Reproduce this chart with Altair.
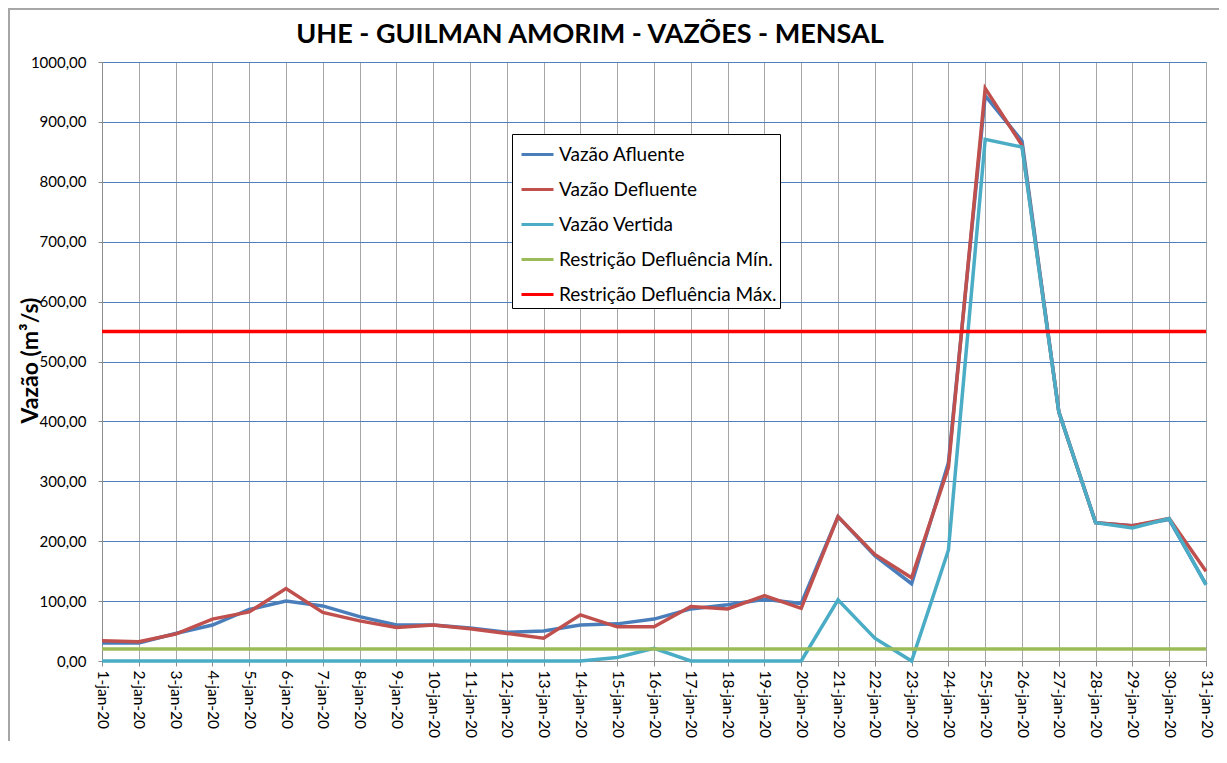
import altair as alt
import pandas as pd

days = [f"{d}-jan-20" for d in range(1, 32)]

afluente = [30, 30, 46, 60, 86, 100, 92, 74, 60, 60, 55, 48, 50, 60, 62, 70,
            87, 94, 103, 96, 241, 176, 129, 331, 944, 868, 416, 231, 226, 236, 128]
defluente = [34, 32, 45, 70, 82, 121, 81, 67, 56, 60, 54, 46, 38, 77, 57, 57,
             91, 87, 109, 88, 241, 178, 139, 323, 956, 861, 416, 231, 226, 238, 150]
vertida = [0, 0, 0, 0, 0, 0, 0, 0, 0, 0, 0, 0, 0, 0, 6, 21,
           0, 0, 0, 0, 102, 38, 0, 185, 871, 858, 416, 231, 222, 238, 127]
restr_min = 20
restr_max = 550

series_names = ["Vazão Afluente", "Vazão Defluente", "Vazão Vertida",
                "Restrição Defluência Mín.", "Restrição Defluência Máx."]
series_colors = ["#4A7EBB", "#C0504D", "#4BACC6", "#9BBB59", "#FF0000"]

series_values = [afluente, defluente, vertida,
                 [restr_min] * len(days), [restr_max] * len(days)]

title_text = "UHE - GUILMAN AMORIM - VAZÕES - MENSAL"

rows = []
for name, vals in zip(series_names, series_values):
    for d, v in zip(days, vals):
        rows.append({"dia": d, "serie": name, "valor": v})
df = pd.DataFrame(rows)

FONT = "Lato"

color = alt.Color(
    "serie:N",
    scale=alt.Scale(domain=series_names, range=series_colors),
    legend=alt.Legend(
        title=None, orient="none", legendX=410, legendY=72,
        symbolType="stroke", symbolSize=1024, symbolStrokeWidth=3,
        labelFont=FONT, labelFontSize=19, labelColor="black",
        labelLimit=400, rowPadding=7, padding=3, symbolOffset=5,
        labelOffset=4,
        strokeColor="black", fillColor="white",
    ),
)

x = alt.X(
    "dia:N", sort=days,
    scale=alt.Scale(type="point", domain=days, padding=0),
    axis=alt.Axis(
        title=None, labelAngle=90, labelFont=FONT, labelFontSize=15.5,
        labelColor="black", labelPadding=4, tickSize=5, tickColor="#8c8c8c",
        domainColor="#8c8c8c", grid=True, gridColor="#a6a6a6", gridWidth=1,
    ),
)
y = alt.Y(
    "valor:Q",
    scale=alt.Scale(domain=[0, 1000], nice=False),
    axis=alt.Axis(
        title="Vazão (m³/s)", values=list(range(0, 1001, 100)),
        labelExpr="replace(format(datum.value, '.2f'), '.', ',')",
        labelFont=FONT, labelFontSize=15, labelColor="black", labelPadding=12,
        tickSize=4, tickColor="#8c8c8c", domainColor="#8c8c8c",
        grid=True, gridColor="#4F81BD", gridWidth=1,
        titleFont=FONT, titleFontSize=23, titleFontWeight="bold",
        titleColor="black", titleAngle=270, titleX=-72, titleY=298,
        titleAlign="center", titleBaseline="middle",
    ),
)

layers = []
for name in series_names:
    layers.append(
        alt.Chart(df).transform_filter(alt.datum.serie == name)
        .mark_line(strokeWidth=3.5)
        .encode(x=x, y=y, color=color)
    )

frame_top = alt.Chart(df).mark_rule(color="#a6a6a6", strokeWidth=1.5).encode(
    x=alt.value(-94), x2=alt.value(1130), y=alt.value(-53.5))
frame_left = alt.Chart(df).mark_rule(color="#a6a6a6", strokeWidth=1.5).encode(
    x=alt.value(-93.3), y=alt.value(-54), y2=alt.value(700))

title_mark = alt.Chart(pd.DataFrame({"t": [title_text]})).mark_text(
    font=FONT, fontSize=27, fontWeight="bold", color="black",
    align="center", baseline="alphabetic",
).encode(text="t:N", x=alt.value(488), y=alt.value(-19))

chart = alt.layer(frame_top, frame_left, *layers, title_mark).properties(
    width=1104, height=599,
    autosize=alt.AutoSizeParams(type="none"),
    padding={"left": 94, "top": 54, "right": 13, "bottom": 80},
).configure_view(stroke=None).configure(background="white")

chart.save("out.html", embed_options={"renderer": "svg", "actions": False})
